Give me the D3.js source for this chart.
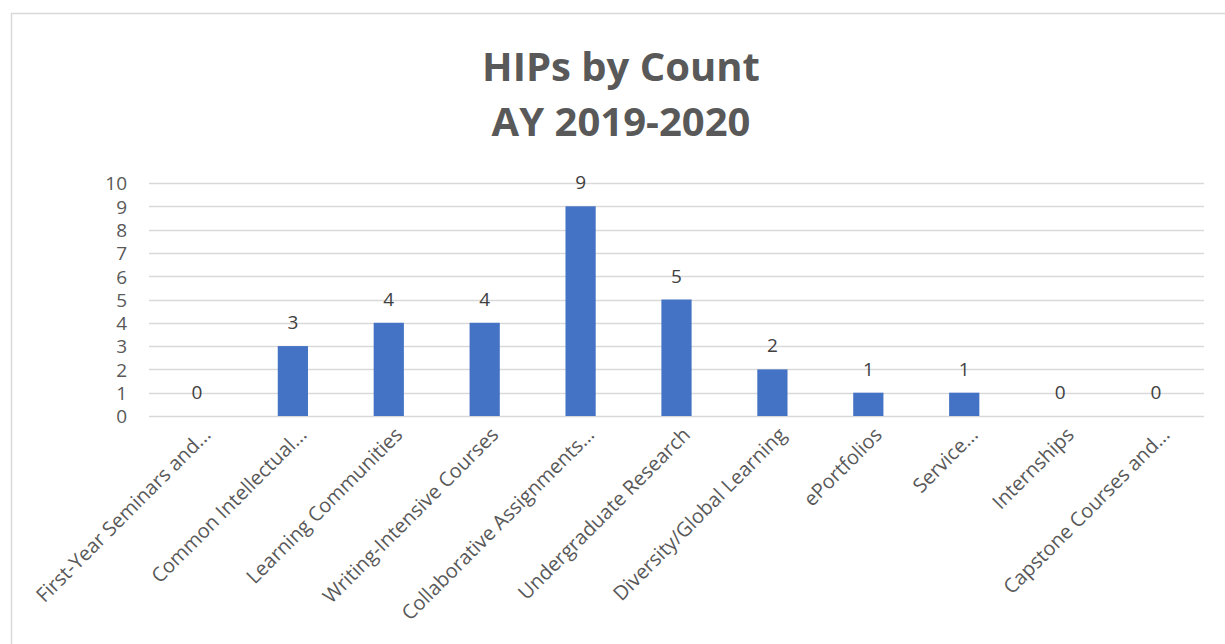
<!DOCTYPE html>
<html>
<head>
<meta charset="utf-8">
<script src="https://cdn.jsdelivr.net/npm/d3@7"></script>
<style>
  html, body { margin: 0; padding: 0; background: #fff; }
  svg { display: block; }
  text { font-family: "Open Sans", "Noto Sans", sans-serif; }
</style>
</head>
<body>
<script>
const categories = [
  "First-Year Seminars and...",
  "Common Intellectual...",
  "Learning Communities",
  "Writing-Intensive Courses",
  "Collaborative Assignments...",
  "Undergraduate Research",
  "Diversity/Global Learning",
  "ePortfolios",
  "Service...",
  "Internships",
  "Capstone Courses and..."
];
const counts = [0, 3, 4, 4, 9, 5, 2, 1, 1, 0, 0];
const yTicks = [0, 1, 2, 3, 4, 5, 6, 7, 8, 9, 10];
const titleLines = ["HIPs by Count", "AY 2019-2020"];

const W = 1225, H = 644;
const svg = d3.select("body").append("svg").attr("width", W).attr("height", H);

// chart border
svg.append("path")
  .attr("d", `M11.5,${H} V13.5 H${W}`)
  .attr("fill", "none").attr("stroke", "#d9d9d9").attr("stroke-width", 1.5);

const x = d3.scaleBand().domain(categories).range([149, 1204]).paddingInner(0.685).paddingOuter(0.3425);
const y = d3.scaleLinear().domain([0, 10]).range([416, 183]);

// gridlines
svg.append("g").selectAll("line").data(yTicks).join("line")
  .attr("x1", 149).attr("x2", 1204)
  .attr("y1", d => Math.round(y(d)) + 0.5).attr("y2", d => Math.round(y(d)) + 0.5)
  .attr("stroke", "#d9d9d9").attr("stroke-width", 1.5);

// y axis labels
const yAxis = d3.axisLeft(y).tickValues(yTicks).tickSize(0).tickPadding(0);
const yg = svg.append("g").attr("transform", "translate(127,0)").call(yAxis);
yg.select(".domain").remove();
yg.selectAll("text").attr("font-size", 19).attr("fill", "#595959")
  .style("font-family", '"Open Sans", sans-serif').attr("dy", "0.36em");

// bars
svg.append("g").selectAll("rect").data(counts).join("rect")
  .attr("x", (d, i) => x(categories[i]))
  .attr("width", x.bandwidth())
  .attr("y", d => y(d))
  .attr("height", d => y(0) - y(d))
  .attr("fill", "#4472c4");

// data labels
svg.append("g").selectAll("text").data(counts).join("text")
  .attr("x", (d, i) => x(categories[i]) + x.bandwidth() / 2)
  .attr("y", d => y(d) - 17)
  .attr("text-anchor", "middle")
  .attr("font-size", 19).attr("fill", "#404040")
  .text(d => d);

// x axis labels
const xAxis = d3.axisBottom(x).tickSize(0).tickPadding(0);
const xg = svg.append("g").attr("transform", "translate(0,416)").call(xAxis);
xg.select(".domain").remove();
xg.selectAll("text")
  .attr("font-size", 20).attr("fill", "#595959")
  .style("font-family", '"Open Sans", sans-serif')
  .attr("text-anchor", "end")
  .attr("dy", null).attr("y", null)
  .attr("transform", "translate(15,20) rotate(-45)")
  .attr("dominant-baseline", "auto");

// title
svg.append("g").selectAll("text").data(titleLines).join("text")
  .attr("x", 621).attr("y", (d, i) => 81 + i * 55)
  .attr("text-anchor", "middle")
  .attr("font-size", 40).attr("font-weight", "bold").attr("fill", "#595959")
  .text(d => d);
</script>
</body>
</html>
